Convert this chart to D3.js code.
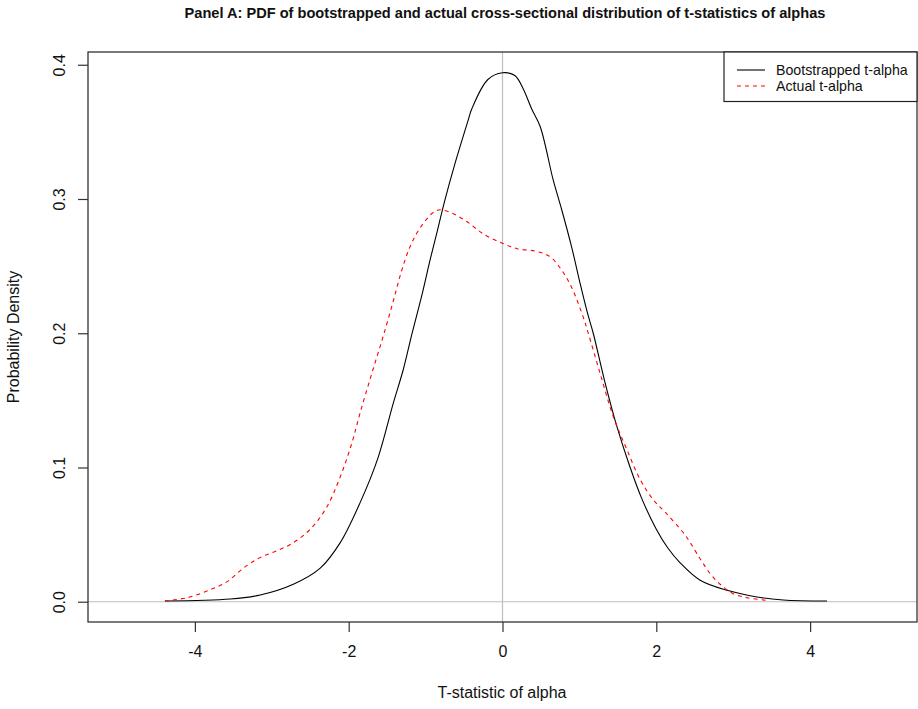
<!DOCTYPE html>
<html>
<head>
<meta charset="utf-8">
<script src="https://cdn.jsdelivr.net/npm/d3@7"></script>
<style>
  html, body { margin: 0; padding: 0; background: #fff; }
  svg { display: block; font-family: "Liberation Sans", Arial, sans-serif; }
</style>
</head>
<body>
<svg id="chart" width="918" height="709"></svg>
<script>
// Density estimate of the bootstrapped t-statistics of alpha
const bootX = [-4.39, -3.54, -3.15, -2.72, -2.37, -2.11, -1.85, -1.62, -1.42, -1.29, -1.18, -1.05, -0.94, -0.84, -0.75, -0.62, -0.45, -0.40, -0.19, 0.00, 0.16, 0.27, 0.38, 0.49, 0.66, 0.77, 0.90, 1.01, 1.11, 1.18, 1.33, 1.49, 1.66, 1.81, 2.00, 2.15, 2.31, 2.57, 2.92, 3.31, 3.65, 4.22];
const bootY = [0.0005, 0.002, 0.005, 0.013, 0.025, 0.044, 0.074, 0.107, 0.148, 0.173, 0.199, 0.228, 0.255, 0.278, 0.299, 0.326, 0.358, 0.367, 0.389, 0.394, 0.392, 0.382, 0.367, 0.354, 0.314, 0.292, 0.264, 0.237, 0.214, 0.200, 0.164, 0.130, 0.100, 0.077, 0.054, 0.040, 0.029, 0.016, 0.0085, 0.0035, 0.0013, 0.0005];

// Density estimate of the actual cross-sectional t-statistics of alpha
const actualX = [-4.39, -4.10, -3.80, -3.58, -3.37, -3.15, -2.93, -2.72, -2.50, -2.29, -2.11, -1.96, -1.85, -1.70, -1.55, -1.42, -1.32, -1.22, -1.11, -1.00, -0.90, -0.81, -0.64, -0.46, -0.25, 0.00, 0.19, 0.44, 0.62, 0.77, 0.90, 1.05, 1.11, 1.27, 1.44, 1.62, 1.79, 1.96, 2.11, 2.37, 2.57, 2.70, 2.83, 3.00, 3.18, 3.44];
const actualY = [0.0007, 0.003, 0.009, 0.015, 0.025, 0.033, 0.038, 0.044, 0.054, 0.070, 0.093, 0.118, 0.141, 0.170, 0.198, 0.224, 0.245, 0.262, 0.275, 0.284, 0.290, 0.292, 0.289, 0.283, 0.274, 0.267, 0.263, 0.261, 0.257, 0.247, 0.234, 0.212, 0.201, 0.170, 0.138, 0.113, 0.091, 0.076, 0.067, 0.050, 0.032, 0.021, 0.013, 0.006, 0.003, 0.001];

const xTicks = [-4, -2, 0, 2, 4];
const yTicks = [0.0, 0.1, 0.2, 0.3, 0.4];
const titleText = "Panel A: PDF of bootstrapped and actual cross-sectional distribution of t-statistics of alphas";
const xLabel = "T-statistic of alpha";
const yLabel = "Probability Density";
const legendLabels = ["Bootstrapped t-alpha", "Actual t-alpha"];

const svg = d3.select("#chart");
const plot = { left: 88, right: 917, top: 52, bottom: 622 };

const x = d3.scaleLinear().domain([-5.39, 5.39]).range([plot.left, plot.right]);
const y = d3.scaleLinear().domain([-0.0151, 0.4095]).range([plot.bottom, plot.top]);

// Reference lines at zero
svg.append("line")
  .attr("x1", x(0)).attr("x2", x(0))
  .attr("y1", plot.top).attr("y2", plot.bottom)
  .attr("stroke", "#bebebe").attr("stroke-width", 1.2);
svg.append("line")
  .attr("x1", plot.left).attr("x2", plot.right)
  .attr("y1", y(0)).attr("y2", y(0))
  .attr("stroke", "#bebebe").attr("stroke-width", 1.2);

const line = d3.line()
  .x(d => x(d[0]))
  .y(d => y(d[1]))
  .curve(d3.curveCatmullRom.alpha(0.5));

const bootData = bootX.map((v, i) => [v, bootY[i]]);
const actualData = actualX.map((v, i) => [v, actualY[i]]);

svg.append("path")
  .datum(bootData)
  .attr("d", line)
  .attr("fill", "none")
  .attr("stroke", "#000")
  .attr("stroke-width", 1.1);

svg.append("path")
  .datum(actualData)
  .attr("d", line)
  .attr("fill", "none")
  .attr("stroke", "#ff0000")
  .attr("stroke-width", 1.1)
  .attr("stroke-dasharray", "4,4");

// Plot frame
svg.append("rect")
  .attr("x", plot.left).attr("y", plot.top)
  .attr("width", plot.right - plot.left)
  .attr("height", plot.bottom - plot.top)
  .attr("fill", "none")
  .attr("stroke", "#222").attr("stroke-width", 1.2);

// X axis
const xAxis = svg.append("g")
  .attr("transform", `translate(0,${plot.bottom})`)
  .call(d3.axisBottom(x).tickValues(xTicks).tickSize(10).tickPadding(14)
    .tickFormat(d => d < 0 ? "-" + Math.abs(d) : String(d)));
xAxis.select(".domain").remove();
xAxis.selectAll(".tick line").attr("stroke", "#333").attr("stroke-width", 1.2);
xAxis.selectAll(".tick text")
  .attr("font-family", "Liberation Sans, Arial, sans-serif")
  .attr("font-size", 16).attr("fill", "#111");

// Y axis
const yAxis = svg.append("g")
  .attr("transform", `translate(${plot.left},0)`)
  .call(d3.axisLeft(y).tickValues(yTicks).tickSize(10).tickFormat(d3.format(".1f")));
yAxis.select(".domain").remove();
yAxis.selectAll(".tick line").attr("stroke", "#333").attr("stroke-width", 1.2);
yAxis.selectAll(".tick text")
  .attr("font-family", "Liberation Sans, Arial, sans-serif")
  .attr("font-size", 16).attr("fill", "#111")
  .attr("text-anchor", "middle")
  .attr("x", 0).attr("dy", 0)
  .attr("transform", "translate(-27,0) rotate(-90)")
  .attr("dominant-baseline", "middle");

// Title and axis labels
svg.append("text")
  .attr("x", 505).attr("y", 18)
  .attr("text-anchor", "middle")
  .attr("font-size", 14.6).attr("font-weight", "bold")
  .attr("fill", "#111")
  .text(titleText);

svg.append("text")
  .attr("x", 502).attr("y", 698)
  .attr("text-anchor", "middle")
  .attr("font-size", 16).attr("fill", "#111")
  .text(xLabel);

svg.append("text")
  .attr("transform", "translate(19,337) rotate(-90)")
  .attr("text-anchor", "middle")
  .attr("font-size", 16).attr("fill", "#111")
  .text(yLabel);

// Legend
const legend = svg.append("g");
legend.append("rect")
  .attr("x", 724).attr("y", plot.top)
  .attr("width", plot.right - 724).attr("height", 49.5)
  .attr("fill", "#fff").attr("stroke", "#222").attr("stroke-width", 1.2);
const legendStyles = [
  { stroke: "#000", dash: null },
  { stroke: "#ff0000", dash: "4,4" }
];
legendLabels.forEach((lab, i) => {
  const yy = 70 + i * 16;
  legend.append("line")
    .attr("x1", 737).attr("x2", 765)
    .attr("y1", yy).attr("y2", yy)
    .attr("stroke", legendStyles[i].stroke)
    .attr("stroke-width", 1.1)
    .attr("stroke-dasharray", legendStyles[i].dash);
  legend.append("text")
    .attr("x", 776).attr("y", yy + 5)
    .attr("font-size", 14.2).attr("fill", "#111")
    .text(lab);
});
</script>
</body>
</html>
